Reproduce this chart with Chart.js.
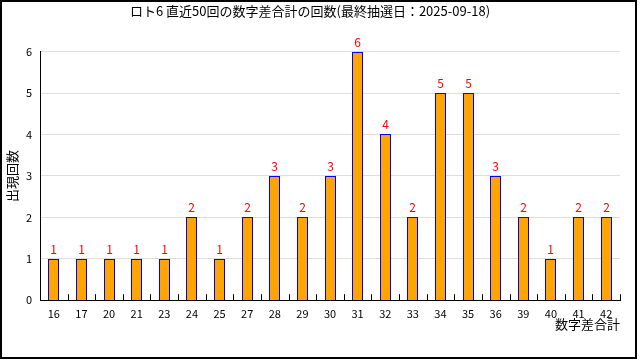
<!DOCTYPE html>
<html>
<head>
<meta charset="utf-8">
<script src="https://cdn.jsdelivr.net/npm/chart.js@4"></script>
<style>
  html, body { margin: 0; padding: 0; background: #fff; }
  #wrap { width: 640px; height: 360px; }
</style>
</head>
<body>
<div id="wrap"><canvas id="sumChart" width="640" height="360"></canvas></div>
<script>
const categories = ["16", "17", "20", "21", "23", "24", "25", "27", "28", "29", "30",
  "31", "32", "33", "34", "35", "36", "39", "40", "41", "42"];
const counts = [1, 1, 1, 1, 1, 2, 1, 2, 3, 2, 3, 6, 4, 2, 5, 5, 3, 2, 1, 2, 2];
const yTicks = [0, 1, 2, 3, 4, 5, 6];

const fam = "'Noto Sans CJK JP', 'DejaVu Sans', sans-serif";

const decor = {
  id: "decor",
  beforeDatasetsDraw(chart) {
    // snap bars to whole pixels so the 1px border stays crisp
    chart.getDatasetMeta(0).data.forEach(bar => {
      bar.x = Math.floor(bar.x) + 0.5;
      bar.y = Math.round(bar.y);
      bar.base = Math.round(bar.base);
    });
  },
  afterDatasetsDraw(chart) {
    const ctx = chart.ctx;
    const xs = chart.scales.x;
    const area = chart.chartArea;
    ctx.save();
    // inward ticks on x axis, between categories
    ctx.strokeStyle = "#000";
    ctx.lineWidth = 1;
    for (let i = 1; i <= categories.length; i++) {
      let px;
      if (i === categories.length) px = area.right;
      else px = (xs.getPixelForValue(i - 1) + xs.getPixelForValue(i)) / 2;
      px = Math.round(px) + 0.5;
      ctx.beginPath();
      ctx.moveTo(px, area.bottom);
      ctx.lineTo(px, area.bottom - 6);
      ctx.stroke();
    }
    // value labels
    ctx.fillStyle = "#ff0000";
    ctx.font = "12px " + fam;
    ctx.textAlign = "center";
    ctx.textBaseline = "bottom";
    chart.getDatasetMeta(0).data.forEach((bar, i) => {
      ctx.fillText(String(counts[i]), bar.x, bar.y - 4);
    });
    // frame
    ctx.strokeStyle = "#000";
    ctx.lineWidth = 2;
    ctx.strokeRect(1, 1, 635, 357);
    ctx.restore();
  }
};

new Chart(document.getElementById("sumChart"), {
  type: "bar",
  data: {
    labels: categories,
    datasets: [
      {
        data: counts,
        backgroundColor: "#ffa500",
        borderColor: "#0000ff",
        borderWidth: 1,
        barThickness: 11,
        inflateAmount: 0,
        categoryPercentage: 1.0,
      },
    ],
  },
  options: {
    responsive: false,
    animation: false,
    layout: { padding: { left: 0, right: 20, top: 0, bottom: 28 } },
    plugins: {
      legend: { display: false },
      tooltip: { enabled: false },
      title: {
        display: true,
        text: "ロト6 直近50回の数字差合計の回数(最終抽選日：2025-09-18)",
        color: "#000",
        font: { family: fam, size: 13, weight: "normal" },
        padding: { top: 3, bottom: 33 },
      },
    },
    scales: {
      x: {
        grid: { display: false, drawTicks: false },
        border: { display: true, color: "#000", width: 1 },
        ticks: { color: "#000", font: { family: fam, size: 11 }, padding: 7, maxRotation: 0, autoSkip: false },
        title: {
          display: true,
          text: "数字差合計",
          align: "end",
          color: "#000",
          font: { family: fam, size: 13 },
          padding: { top: -11, bottom: 0 },
        },
      },
      y: {
        min: 0,
        max: 6,
        afterFit(scale) { scale.width = 40; },
        afterBuildTicks(scale) { scale.ticks = yTicks.map(v => ({ value: v })); },
        grid: { color: "#dddddd", drawTicks: false },
        border: { display: true, color: "#000", width: 1 },
        ticks: { color: "#000", font: { family: fam, size: 11 }, padding: 8 },
        title: {
          display: true,
          text: "出現回数",
          color: "#000",
          font: { family: fam, size: 13 },
          padding: { top: 4, bottom: 0 },
        },
      },
    },
  },
  plugins: [decor],
});
</script>
</body>
</html>
